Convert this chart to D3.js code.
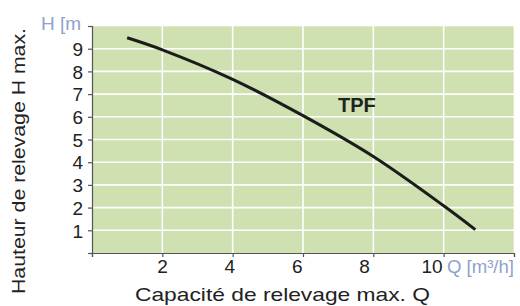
<!DOCTYPE html>
<html>
<head>
<meta charset="utf-8">
<script src="https://cdn.jsdelivr.net/npm/d3@7"></script>
<style>
  body { margin: 0; background: #fff; }
  svg { display: block; font-family: "Liberation Sans", Arial, sans-serif; }
</style>
</head>
<body>
<div id="chart"></div>
<script>
// Pump curve TPF: head H [m] vs flow Q [m3/h]
const flow = [1, 2, 4, 6, 8, 10, 10.9];
const head = [9.48, 8.95, 7.65, 6.05, 4.25, 2.08, 1.03];
const xTicks = [2, 4, 6, 8, 10];
const yTicks = [1, 2, 3, 4, 5, 6, 7, 8, 9];
const seriesName = "TPF";

const width = 520, height = 306;
const margin = { top: 26, right: 6, bottom: 53, left: 92 };

const svg = d3.select("#chart")
  .append("svg")
  .attr("width", width)
  .attr("height", height);

const x = d3.scaleLinear().domain([0, 12]).range([margin.left, width - margin.right]);
const y = d3.scaleLinear().domain([0, 10]).range([height - margin.bottom, margin.top]);
// the printed x tick labels drift a little left of their ticks
const xLabel = d3.scaleLinear().domain([2, 10]).range([162.5, 432]);

// green plot background
svg.append("rect")
  .attr("x", x(0)).attr("y", y(10))
  .attr("width", x(12) - x(0)).attr("height", y(0) - y(10))
  .attr("fill", "#cfe0b1");

// white grid
svg.append("g")
  .selectAll("line")
  .data(yTicks.concat([10]))
  .join("line")
    .attr("x1", x(0)).attr("x2", x(12))
    .attr("y1", d => y(d)).attr("y2", d => y(d))
    .attr("stroke", "#fff")
    .attr("stroke-width", d => d === 10 ? 1 : 1.6)
    .attr("stroke-opacity", d => d === 10 ? 0.6 : 1);

svg.append("g")
  .selectAll("line")
  .data(xTicks.concat([12]))
  .join("line")
    .attr("x1", d => x(d)).attr("x2", d => x(d))
    .attr("y1", y(0)).attr("y2", y(10))
    .attr("stroke", "#fff")
    .attr("stroke-width", d => d === 12 ? 1 : 1.6)
    .attr("stroke-opacity", d => d === 12 ? 0.6 : 1);

// axes
const xAxis = svg.append("g")
  .attr("transform", `translate(0,${y(0)})`)
  .call(d3.axisBottom(x).tickValues([0, 2, 4, 6, 8, 10, 12]).tickSize(4).tickFormat(""));
const yAxis = svg.append("g")
  .attr("transform", `translate(${x(0)},0)`)
  .call(d3.axisLeft(y).tickValues([0, 1, 2, 3, 4, 5, 6, 7, 8, 9, 10]).tickSize(4).tickFormat(""));
[xAxis, yAxis].forEach(a => {
  a.select(".domain").attr("stroke", "#555").attr("stroke-width", 1.2);
  a.selectAll(".tick line").attr("stroke", "#555").attr("stroke-width", 1.2);
});

// tick labels
svg.append("g")
  .selectAll("text")
  .data(xTicks)
  .join("text")
    .attr("x", d => xLabel(d))
    .attr("y", 273)
    .attr("text-anchor", "middle")
    .attr("font-size", "19px")
    .attr("fill", "#222")
    .text(d => d);

svg.append("g")
  .selectAll("text")
  .data(yTicks)
  .join("text")
    .attr("x", 83)
    .attr("y", d => y(d))
    .attr("dy", "0.38em")
    .attr("text-anchor", "end")
    .attr("font-size", "19px")
    .attr("fill", "#222")
    .text(d => d);

// unit labels
svg.append("text")
  .attr("x", 81).attr("y", 30)
  .attr("text-anchor", "end")
  .attr("font-size", "19px")
  .attr("fill", "#8fa2cc")
  .text("H [m");

svg.append("text")
  .attr("x", 447).attr("y", 273)
  .attr("font-size", "19px")
  .attr("fill", "#8fa2cc")
  .text("Q [m³/h]")
  .attr("textLength", 67)
  .attr("lengthAdjust", "spacingAndGlyphs");

// axis titles
svg.append("text")
  .attr("transform", "translate(25,294) rotate(-90)")
  .attr("font-size", "19px")
  .attr("fill", "#222")
  .attr("textLength", 266)
  .attr("lengthAdjust", "spacingAndGlyphs")
  .text("Hauteur de relevage H max.");

svg.append("text")
  .attr("x", 135).attr("y", 301)
  .attr("font-size", "19px")
  .attr("fill", "#222")
  .attr("textLength", 295)
  .attr("lengthAdjust", "spacingAndGlyphs")
  .text("Capacité  de relevage max. Q");

// curve
const pts = flow.map((q, i) => [q, head[i]]);
svg.append("path")
  .datum(pts)
  .attr("fill", "none")
  .attr("stroke", "#1c1c1c")
  .attr("stroke-width", 3)
  .attr("d", d3.line().x(d => x(d[0])).y(d => y(d[1])).curve(d3.curveCatmullRom.alpha(0.5)));

svg.append("text")
  .attr("x", 338).attr("y", 112)
  .attr("font-size", "20px")
  .attr("font-weight", "bold")
  .attr("fill", "#222")
  .text(seriesName);
</script>
</body>
</html>
